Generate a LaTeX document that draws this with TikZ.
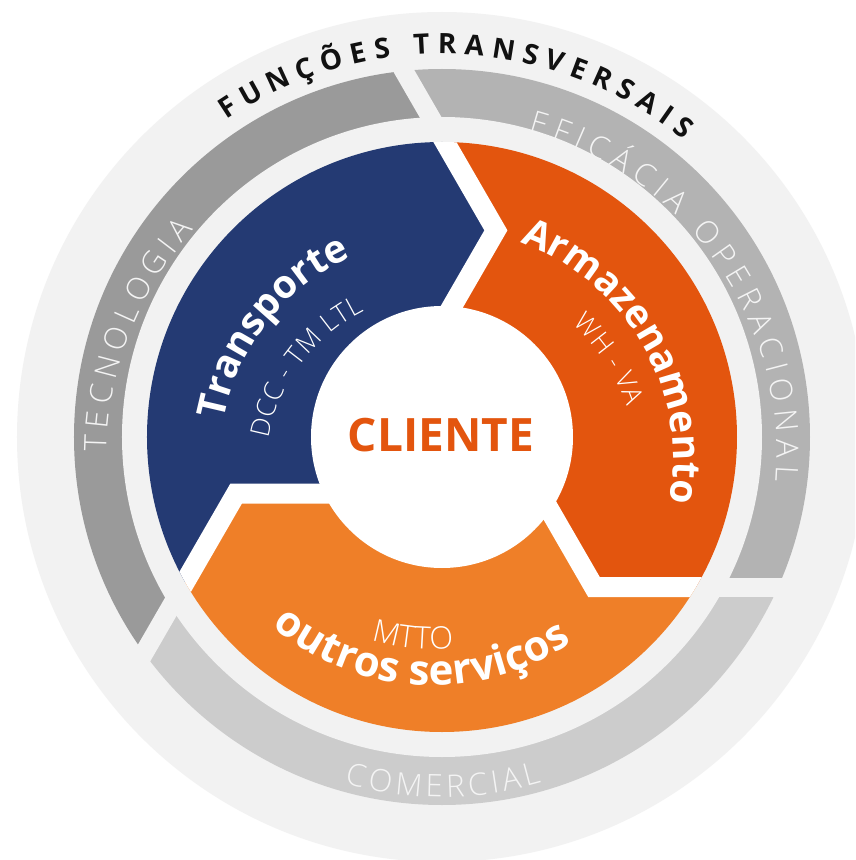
\documentclass[tikz,border=0pt]{standalone}
\usepackage{fontspec}
\setmainfont{Open Sans}
\IfFontExistsTF{Open Sans Light}{\newfontfamily\lightfont{Open Sans Light}}{\newfontfamily\lightfont{Open Sans}}
\definecolor{bgF}{HTML}{F2F2F2}
\definecolor{grTec}{HTML}{9A9A9A}
\definecolor{grEfi}{HTML}{B3B3B3}
\definecolor{grCom}{HTML}{CCCCCC}
\definecolor{blueT}{HTML}{243A73}
\definecolor{orD}{HTML}{E3550E}
\definecolor{orL}{HTML}{EF7F28}
\definecolor{txtK}{HTML}{111111}
\definecolor{txtL}{HTML}{F4F4F4}
\newlength\ArcTotW
\newlength\ArcChW
\newcounter{arcch}
\newcommand\MeasureCh[1]{\pgfinterruptpicture\settowidth{\ArcChW}{#1}\global\ArcChW=\ArcChW\endpgfinterruptpicture}
% #1 cx, #2 cy, #3 radius, #4 mid angle, #5 sign (-1 cw/tops out, +1 ccw/tops in), #6 tracking, #7 style, #8 letters
\newcommand\ArcText[8]{%
  \global\ArcTotW=0pt
  \foreach \cc in {#8}{%
    \MeasureCh{#7\cc}%
    \global\advance\ArcTotW by \ArcChW
    \global\advance\ArcTotW by #6pt\relax
  }%
  \global\advance\ArcTotW by -#6pt\relax
  \pgfmathsetmacro\ArcStart{#4 - (#5)*(\ArcTotW/2)/(#3)*180/pi}%
  \global\let\ArcCur\ArcStart
  \foreach \cc in {#8}{%
    \MeasureCh{#7\cc}%
    \pgfmathsetmacro\ArcAng{\ArcCur + (#5)*(\ArcChW/2)/(#3)*180/pi}%
    \pgfmathsetmacro\ArcX{#1+#3*cos(\ArcAng)}%
    \pgfmathsetmacro\ArcY{#2+#3*sin(\ArcAng)}%
    \pgfmathsetmacro\ArcRot{\ArcAng+(#5)*90}%
    \stepcounter{arcch}%
    \node[inner sep=0pt, outer sep=0pt, anchor=base, rotate=\ArcRot] (ch\arabic{arcch}) at (\ArcX,\ArcY) {#7\cc};
    \pgfmathsetmacro\ArcNext{\ArcCur + (#5)*(\ArcChW+#6pt)/(#3)*180/pi}%
    \global\let\ArcCur\ArcNext
  }%
}
\tikzset{
  gapline/.style={line width=19, bgF},
  chevron/.style={line width=20, white, line join=miter}
}
\begin{document}
\begin{tikzpicture}[x=1pt,y=1pt]
\useasboundingbox (-442,-423) rectangle (413,437);
\clip (-442,-423) rectangle (413,437);
\fill[white] (-442,-423) rectangle (413,437);
\fill[bgF] (0,0) circle (425);
% gray band
\begin{scope}
  \clip (0,0) circle (368);
  \foreach \b/\c in {0/grEfi,120/grTec,240/grCom}{
    \fill[\c] (0,0) -- ({\b+1.38}:64.52) -- ({\b-44.62}:213.55) -- ({\b-15.2}:572) -- ({\b+44.8}:800) -- ({\b+104.8}:572) -- ({\b+75.38}:213.55) -- ({\b+121.38}:64.52) -- cycle;
  }
\end{scope}
\fill[bgF] (0,0) circle (320);
\foreach \b in {0,120,240}{
  \begin{scope}[rotate=\b]
    \draw[gapline] (265,-150) -- (362,-150);
  \end{scope}
}
% coloured ring
\begin{scope}
  \clip (0,0) circle (295);
  \foreach \b/\c in {0/orD,120/blueT,240/orL}{
    \fill[\c] (0,0) -- ({\b+1.38}:64.52) -- ({\b-44.62}:213.55) -- ({\b-15.2}:572) -- ({\b+44.8}:800) -- ({\b+104.8}:572) -- ({\b+75.38}:213.55) -- ({\b+121.38}:64.52) -- cycle;
  }
  \foreach \b in {0,120,240}{
    \begin{scope}[rotate=\b]
      \draw[chevron] (64.5,1.55) -- (152,-150) -- (330,-150);
    \end{scope}
  }
\end{scope}
\fill[white] (0,0) circle (131);
\node[font=\bfseries\fontsize{46}{48}\selectfont, text=orD, inner sep=0pt] (cliente) at (-1,2) {CLIENTE};
% curved texts
\ArcText{0}{0}{383}{87.5}{-1}{7.8}{\bfseries\fontsize{28}{30}\selectfont\color{txtK}}{F,U,N,Ç,Õ,E,S,~,T,R,A,N,S,V,E,R,S,A,I,S}
\ArcText{0}{-18}{335}{158.6}{-1}{6.3}{\lightfont\fontsize{31}{33}\selectfont\color{txtL}}{T,E,C,N,O,L,O,G,I,A}
\ArcText{0}{-18}{335}{35.3}{-1}{6.8}{\lightfont\fontsize{31}{33}\selectfont\color{txtL}}{E,F,I,C,Á,C,I,A,~,O,P,E,R,A,C,I,O,N,A,L}
\ArcText{0}{0}{360}{270.2}{1}{4.2}{\lightfont\fontsize{31}{33}\selectfont\color{txtL}}{C,O,M,E,R,C,I,A,L}
\ArcText{0}{-23}{222}{142}{-1}{0}{\bfseries\fontsize{39}{40}\selectfont\color{white}}{T,r,a,n,s,p,o,r,t,e}
\ArcText{0}{-32}{176}{143}{-1}{0.6}{\lightfont\fontsize{26.5}{28}\selectfont\color{white}}{D,C,C,~,-,~,T,M,~,L,T,L}
\ArcText{0}{-23}{231}{29.9}{-1}{0}{\bfseries\fontsize{39}{40}\selectfont\color{white}}{A,r,m,a,z,e,n,a,m,e,n,t,o}
\ArcText{0}{-32}{195}{33.3}{-1}{0.6}{\lightfont\fontsize{26.5}{28}\selectfont\color{white}}{W,H,~,-,~,V,A}
\ArcText{-9}{0}{248.5}{266.85}{1}{0.3}{\bfseries\fontsize{42}{44}\selectfont\color{white}}{o,u,t,r,o,s,~,s,e,r,v,i,ç,o,s}
\ArcText{-9}{0}{212.5}{264.35}{1}{0}{\lightfont\fontsize{31}{33}\selectfont\color{white}}{M,T,T,O}
\end{tikzpicture}
\end{document}
